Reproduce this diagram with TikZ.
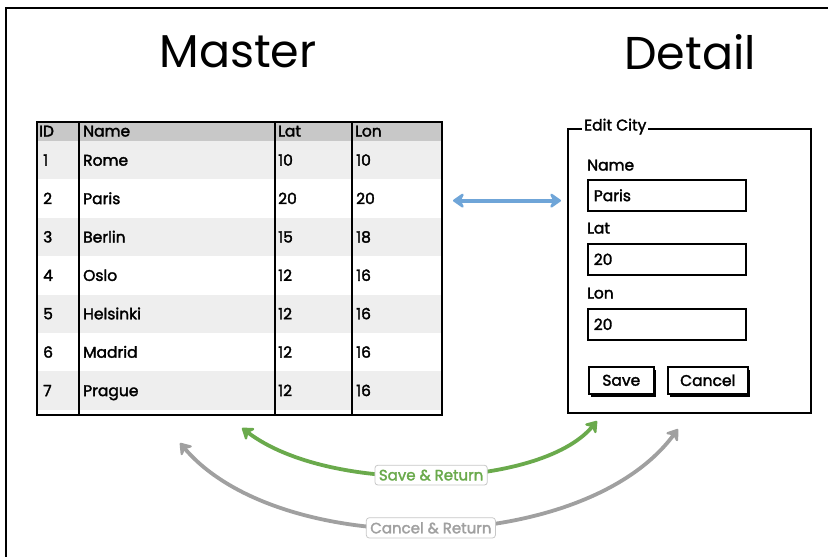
\documentclass[tikz,border=0pt]{standalone}
\usepackage{fontspec}
\setmainfont{Poppins}
\newfontfamily\uifont{Poppins}[FakeBold=2]
\usetikzlibrary{arrows.meta, shadows}
\definecolor{rowgray}{HTML}{EEEEEE}
\definecolor{headgray}{HTML}{C8C8C8}
\definecolor{linkblue}{HTML}{6FA5D8}
\definecolor{savegreen}{HTML}{6AAA4C}
\definecolor{cancelgray}{HTML}{A0A0A0}

\begin{document}
\begin{tikzpicture}[x=1pt, y=-1pt,
    title/.style={font=\fontsize{46}{54}\selectfont},
    txt/.style={anchor=west, inner sep=0pt, text height=10pt, text depth=3pt, font=\uifont\fontsize{15.5}{18}\selectfont},
    sketch/.style={draw, line width=1.6pt},
    field/.style={sketch, fill=white, anchor=north west, minimum height=31pt, text width=146pt, inner xsep=6pt, align=left, font=\uifont\fontsize{15.5}{18}\selectfont, drop shadow={shadow xshift=1pt, shadow yshift=-1.2pt, fill=black, opacity=1}},
    button/.style={sketch, fill=white, anchor=north west, minimum height=27pt, font=\uifont\fontsize{15.5}{18}\selectfont, drop shadow={shadow xshift=2pt, shadow yshift=-3pt, fill=black, opacity=1}},
    tag/.style={draw=black!22, line width=0.8pt, rounded corners=3pt, fill=white, inner xsep=4pt, inner ysep=4.5pt, font=\uifont\fontsize{15}{18}\selectfont},
    link/.style={line width=3.8pt, {Stealth[length=13pt, width=18pt, round]}-{Stealth[length=13pt, width=18pt, round]}}]
    \useasboundingbox (0,0) rectangle (828,557);
    \draw[line width=1.6pt] (6,570) -- (6,8) -- (840,8);

    % Titles
    \node[title] (mtitle) at (238,52) {Master};
    \node[title] (dtitle) at (690,52) {Detail};

    % Master table
    \fill[headgray] (36,121) rectangle (441,141);
    \foreach \r in {1,3,5,7}
        \fill[rowgray] (36,{102.6+38.4*\r}) rectangle (441,{141+38.4*\r});
    \node[sketch, line width=2pt, anchor=north west, minimum width=405pt, minimum height=293pt] (master) at (36,121) {};
    \foreach \x in {79,275,352}
        \draw[line width=1.6pt] (\x,121) -- (\x,414);
    \node[txt] (hid) at (39,133) {ID};
    \node[txt] (hname) at (83,133) {Name};
    \node[txt] (hlat) at (278,133) {Lat};
    \node[txt] (hlon) at (355,133) {Lon};
    \foreach \id/\city/\lat/\lon [count=\r] in {1/Rome/10/10, 2/Paris/20/20, 3/Berlin/15/18, 4/Oslo/12/16, 5/Helsinki/12/16, 6/Madrid/12/16, 7/Prague/12/16} {
        \node[txt] (id\r) at (43,{123.8+38.4*\r}) {\id};
        \node[txt] (city\r) at (83,{123.8+38.4*\r}) {\city};
        \node[txt] (lat\r) at (278,{123.8+38.4*\r}) {\lat};
        \node[txt] (lon\r) at (356,{123.8+38.4*\r}) {\lon};
    }

    % Detail form
    \node[sketch, anchor=north west, minimum width=243pt, minimum height=284pt] (detail) at (567,128) {};
    \node[txt, fill=white, inner xsep=2pt, inner ysep=1pt] (legend) at (582,127) {Edit City};
    \node[txt] (lname) at (587,167) {Name};
    \node[field] (fname) at (587,179) {Paris};
    \node[txt] (llat) at (587,230) {Lat};
    \node[field] (flat) at (587,243) {20};
    \node[txt] (llon) at (587,295) {Lon};
    \node[field] (flon) at (587,308) {20};
    \node[button, minimum width=65pt] (save) at (588,366) {Save};
    \node[button, minimum width=80pt] (cancel) at (667,366) {Cancel};

    % Connections
    \draw[link, linkblue, shorten <=10pt, shorten >=6pt] (lon2 -| master.east) -- (detail.west |- lon2);
    \coordinate (saveL) at (242,428);
    \coordinate (saveR) at (597,421);
    \coordinate (cancelL) at (180,443);
    \coordinate (cancelR) at (678,429);
    \draw[link, savegreen] (saveL) .. controls (330,495) and (540,489) .. (saveR)
        node[tag, text=savegreen, pos=0.5] (savetag) {Save \& Return};
    \draw[link, cancelgray] (cancelL) .. controls (280,560) and (583,557) .. (cancelR)
        node[tag, text=cancelgray, pos=0.5] (canceltag) {Cancel \& Return};
\end{tikzpicture}
\end{document}
